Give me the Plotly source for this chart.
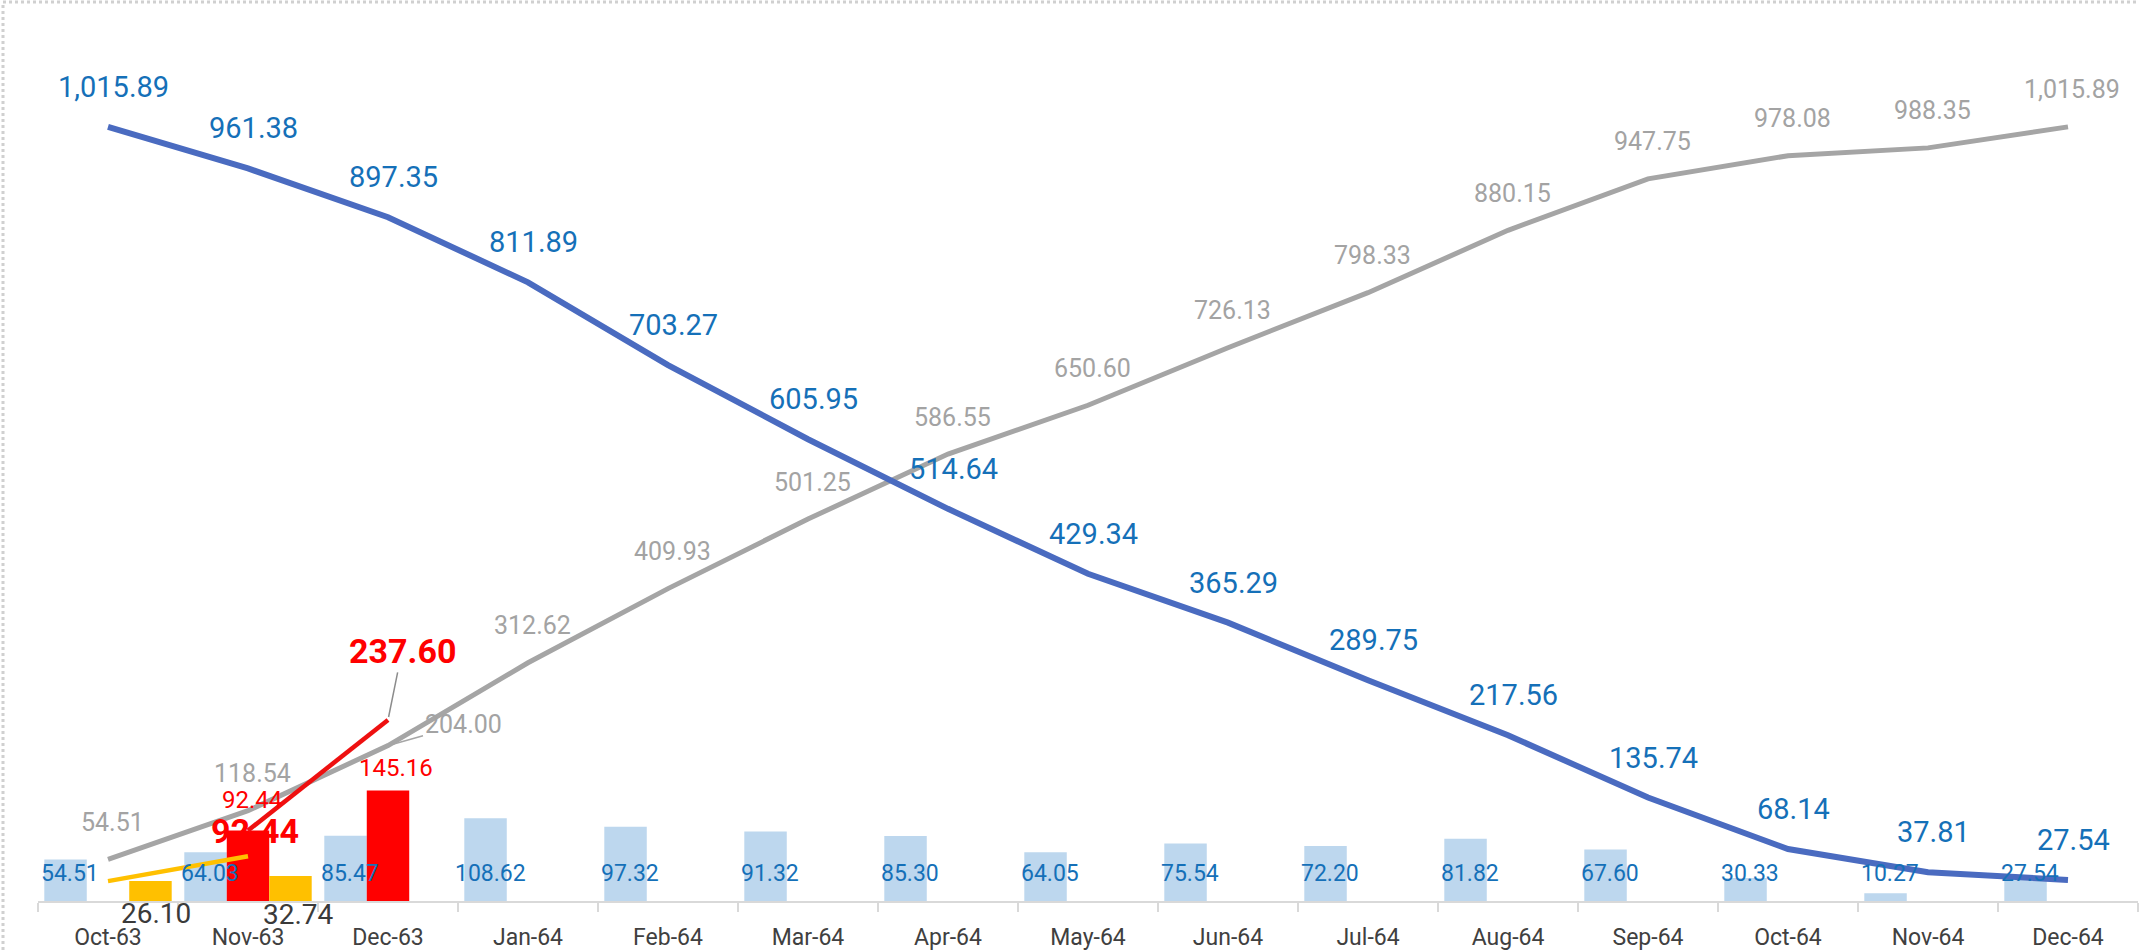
import plotly.graph_objects as go

# ---------------- data ----------------
categories = ["Oct-63", "Nov-63", "Dec-63", "Jan-64", "Feb-64", "Mar-64", "Apr-64", "May-64",
              "Jun-64", "Jul-64", "Aug-64", "Sep-64", "Oct-64", "Nov-64", "Dec-64"]
monthly_values = [54.51, 64.03, 85.47, 108.62, 97.32, 91.32, 85.30, 64.05,
                  75.54, 72.20, 81.82, 67.60, 30.33, 10.27, 27.54]
cumulative_values = [54.51, 118.54, 204.00, 312.62, 409.93, 501.25, 586.55, 650.60,
                     726.13, 798.33, 880.15, 947.75, 978.08, 988.35, 1015.89]
remaining_values = [1015.89, 961.38, 897.35, 811.89, 703.27, 605.95, 514.64, 429.34,
                    365.29, 289.75, 217.56, 135.74, 68.14, 37.81, 27.54]
red_categories = ["Nov-63", "Dec-63"]
red_monthly = [92.44, 145.16]
red_cumulative = [92.44, 237.60]
yellow_categories = ["Oct-63", "Nov-63"]
yellow_monthly = [26.10, 32.74]
yellow_cumulative = [26.10, 58.84]

# ---------------- styles ----------------
FONT = "Roboto"
BLUE_TXT = "#1570B8"
GRAY_TXT = "#A3A3A3"
RED = "#FF0000"
YELLOW = "#FFC000"
LIGHT_BLUE = "#BDD7EE"
W, H = 2139, 952
ML, MR, MT, MB = 38, 1, 20, 51
PX_PER_UNIT = 0.762
YMAX = (H - MT - MB) / PX_PER_UNIT


def fmt(v):
    return f"{v:,.2f}"


red_map = dict(zip(red_categories, red_monthly))
yellow_map = dict(zip(yellow_categories, yellow_monthly))

fig = go.Figure()

# bars (grouped: blue, red, yellow)
fig.add_trace(go.Bar(x=categories, y=monthly_values, marker_color=LIGHT_BLUE,
                     marker_line_width=0, hoverinfo="skip"))
fig.add_trace(go.Bar(x=categories, y=[red_map.get(c) for c in categories], marker_color=RED,
                     marker_line_width=0, hoverinfo="skip"))
fig.add_trace(go.Bar(x=categories, y=[yellow_map.get(c) for c in categories], marker_color=YELLOW,
                     marker_line_width=0, hoverinfo="skip"))

# lines
fig.add_trace(go.Scatter(x=categories, y=cumulative_values, mode="lines",
                         line=dict(color="#A5A5A5", width=5), hoverinfo="skip"))
fig.add_trace(go.Scatter(x=categories, y=remaining_values, mode="lines",
                         line=dict(color="#4A6BC0", width=6), hoverinfo="skip"))
fig.add_trace(go.Scatter(x=yellow_categories, y=yellow_cumulative, mode="lines",
                         line=dict(color=YELLOW, width=4.5), hoverinfo="skip"))
fig.add_trace(go.Scatter(x=red_categories, y=red_cumulative, mode="lines",
                         line=dict(color="#EE1010", width=4.5), hoverinfo="skip"))

ann = []
# remaining (blue line) labels
for c, v in zip(categories, remaining_values):
    ann.append(dict(x=c, y=v, text=fmt(v), showarrow=False, xshift=5, yshift=40,
                    font=dict(family=FONT, size=29, color=BLUE_TXT)))
# cumulative (gray line) labels
for c, v in zip(categories, cumulative_values):
    if c == "Dec-63":
        ann.append(dict(x=c, y=v, text=fmt(v), showarrow=True, ax=75, ay=-21,
                        arrowhead=0, arrowwidth=1.5, arrowcolor="#A6A6A6", standoff=6,
                        font=dict(family=FONT, size=25, color=GRAY_TXT)))
    else:
        ann.append(dict(x=c, y=v, text=fmt(v), showarrow=False, xshift=4, yshift=37,
                        font=dict(family=FONT, size=25, color=GRAY_TXT)))
# monthly (blue bar) labels at bar base
for c, v in zip(categories, monthly_values):
    ann.append(dict(x=c, y=0, text=fmt(v), showarrow=False, xshift=-38, yshift=28,
                    font=dict(family=FONT, size=23, color=BLUE_TXT)))
# red bar labels
red_bar_shift = {"Nov-63": (4, 31), "Dec-63": (8, 22)}
for c, v in zip(red_categories, red_monthly):
    dx, dy = red_bar_shift[c]
    ann.append(dict(x=c, y=v, text=fmt(v), showarrow=False, xshift=dx, yshift=dy,
                    font=dict(family=FONT, size=24, color=RED)))
# red line labels (bold)
ann.append(dict(x=red_categories[0], y=red_cumulative[0], text=f"<b>{fmt(red_cumulative[0])}</b>",
                showarrow=False, xshift=7, yshift=0,
                font=dict(family=FONT, size=34, color=RED)))
ann.append(dict(x=red_categories[1], y=red_cumulative[1], text=f"<b>{fmt(red_cumulative[1])}</b>",
                showarrow=True, ax=14, ay=-69, arrowhead=0, arrowwidth=1.5,
                arrowcolor="#8C8C8C", standoff=3,
                font=dict(family=FONT, size=34, color=RED)))
# yellow bar labels below axis
yellow_shift = {"Oct-63": (48, -12), "Nov-63": (50, -13)}
for c, v in zip(yellow_categories, yellow_monthly):
    dx, dy = yellow_shift[c]
    ann.append(dict(x=c, y=0, text=fmt(v), showarrow=False, xshift=dx, yshift=dy,
                    font=dict(family=FONT, size=28, color="#3A3A3A")))

# decorative dotted frame on the left and top edges
pw = W - ML - MR
ph = H - MT - MB
shapes = [
    dict(type="line", xref="paper", yref="paper", x0=-(ML - 3) / pw, x1=-(ML - 3) / pw,
         y0=-(MB - 2) / ph, y1=1 + (MT - 2) / ph, line=dict(color="#D0D0D0", width=3, dash="dot")),
    dict(type="line", xref="paper", yref="paper", x0=-(ML - 3) / pw, x1=1,
         y0=1 + (MT - 2) / ph, y1=1 + (MT - 2) / ph, line=dict(color="#D0D0D0", width=3, dash="dot")),
]

fig.update_layout(
    width=W, height=H,
    margin=dict(l=ML, r=MR, t=MT, b=MB),
    paper_bgcolor="white", plot_bgcolor="white",
    barmode="group", bargap=0.09, bargroupgap=0,
    showlegend=False,
    annotations=ann,
    shapes=shapes,
    font=dict(family=FONT),
    xaxis=dict(type="category", categoryorder="array", categoryarray=categories,
               showgrid=False, showline=True, linecolor="#D9D9D9", linewidth=2,
               ticks="outside", tickson="boundaries", ticklen=9, tickcolor="#D9D9D9", tickwidth=2,
               ticklabelstandoff=14,
               tickfont=dict(family=FONT, size=23, color="#404040"), zeroline=False,
               fixedrange=True),
    yaxis=dict(range=[0, YMAX], visible=False, showgrid=False, zeroline=False, fixedrange=True),
)

fig.write_html("out.html", config={"displayModeBar": False},
               post_script="document.body.style.margin='0px';document.body.style.overflow='hidden';")
